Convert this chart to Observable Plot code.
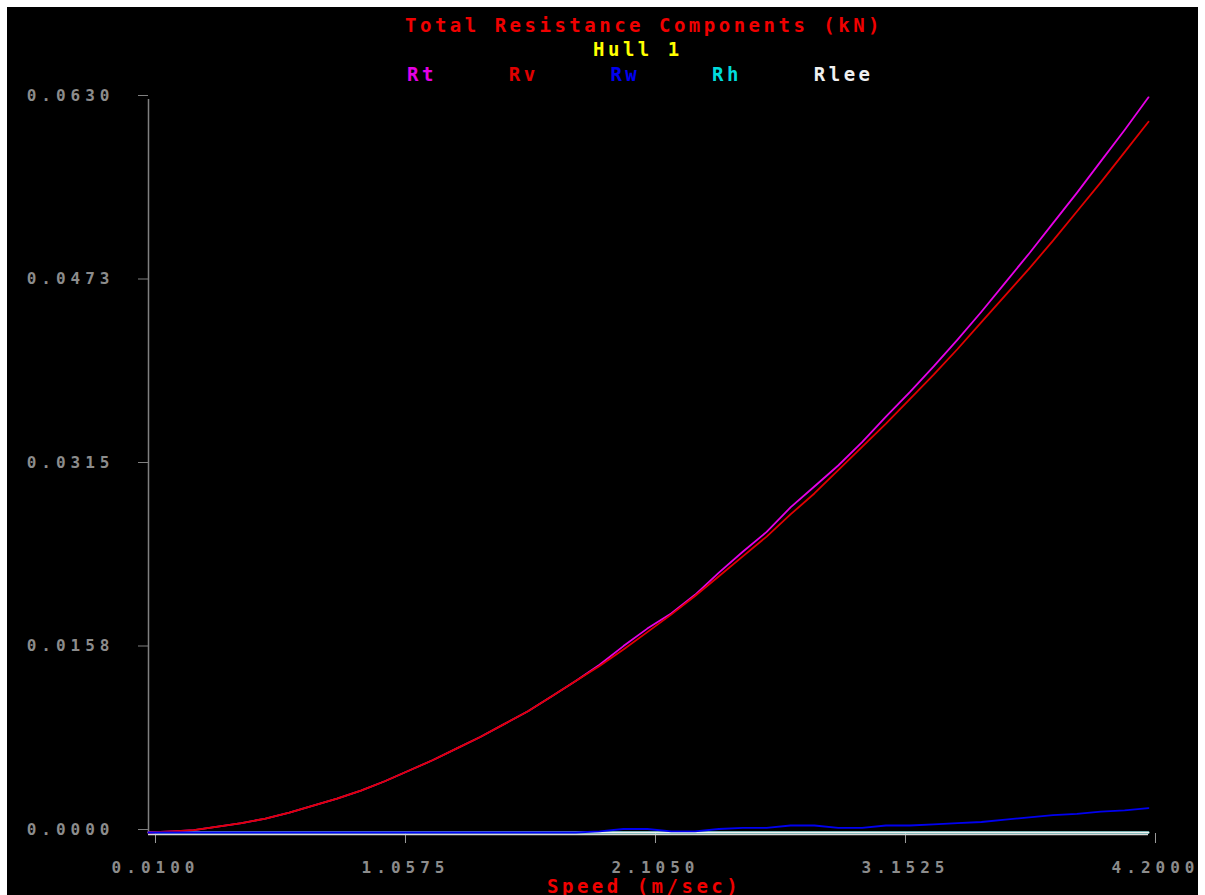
<!DOCTYPE html>
<html>
<head>
<meta charset="utf-8">
<script src="https://cdn.jsdelivr.net/npm/d3@7"></script>
<script src="https://cdn.jsdelivr.net/npm/@observablehq/plot@0.6"></script>
<style>
  html, body { margin: 0; padding: 0; background: #fff; }
  #panel { position: absolute; left: 7px; top: 7px; width: 1191px; height: 888px; background: #000; overflow: hidden; }
  #panel svg { position: absolute; left: 0; top: 0; }
  #panel svg text { font-size: 16px; font-weight: bold; letter-spacing: 5px; font-family: "DejaVu Sans Mono", monospace; }
  .t { position: absolute; font-family: "DejaVu Sans Mono", monospace; font-weight: bold; white-space: pre; line-height: 19px; font-size: 19px; letter-spacing: 3.5px; }
</style>
</head>
<body>
<div id="panel"></div>
<script>
// Speed (m/sec)
const speed = [0.01, 0.11, 0.2, 0.3, 0.4, 0.5, 0.6, 0.7, 0.8, 0.9, 1.0, 1.1, 1.2, 1.3, 1.4, 1.5, 1.6, 1.7, 1.8, 1.9,
  2.0, 2.1, 2.2, 2.3, 2.4, 2.5, 2.6, 2.7, 2.8, 2.9, 3.0, 3.1, 3.2, 3.3, 3.4, 3.5, 3.6, 3.7, 3.8, 3.9, 4.0, 4.1, 4.2];

// Resistance components (kN)
const rt = [0, 0.0001, 0.0002, 0.0005, 0.0008, 0.0012, 0.0017, 0.0023, 0.0029, 0.0036, 0.0044, 0.0053, 0.0062, 0.0072, 0.0082, 0.0093, 0.0104, 0.0117, 0.0130, 0.0144,
  0.0160, 0.0175, 0.0188, 0.0204, 0.0223, 0.0241, 0.0258, 0.0279, 0.0297, 0.0315, 0.0335, 0.0357, 0.0378, 0.0400, 0.0423, 0.0447, 0.0472, 0.0497, 0.0523, 0.0549, 0.0576, 0.0603, 0.0631];
const rv = [0, 0.0001, 0.0002, 0.0005, 0.0008, 0.0012, 0.0017, 0.0023, 0.0029, 0.0036, 0.0044, 0.0053, 0.0062, 0.0072, 0.0082, 0.0093, 0.0104, 0.0117, 0.0130, 0.0143,
  0.0157, 0.0172, 0.0187, 0.0203, 0.0220, 0.0237, 0.0254, 0.0273, 0.0291, 0.0311, 0.0331, 0.0351, 0.0372, 0.0393, 0.0415, 0.0438, 0.0461, 0.0484, 0.0508, 0.0533, 0.0558, 0.0584, 0.0610];
const rw = [0, 0, 0, 0, 0, 0, 0, 0, 0, 0, 0, 0, 0, 0, 0, 0, 0, 0, 0, 0.0001,
  0.0003, 0.0003, 0.0001, 0.0001, 0.0003, 0.0004, 0.0004, 0.0006, 0.0006, 0.0004, 0.0004, 0.0006, 0.0006, 0.0007, 0.0008, 0.0009, 0.0011, 0.0013, 0.0015, 0.0016, 0.0018, 0.0019, 0.0021];
const rh = [0, 0, 0, 0, 0, 0, 0, 0, 0, 0, 0, 0, 0, 0, 0, 0, 0, 0, 0, 0,
  0, 0, 0, 0, 0, 0, 0, 0, 0, 0, 0, 0, 0, 0, 0, 0, 0, 0, 0, 0, 0, 0, 0];
const rlee = [0, 0, 0, 0, 0, 0, 0, 0, 0, 0, 0, 0, 0, 0, 0, 0, 0, 0, 0, 0,
  0, 0, 0, 0, 0, 0, 0, 0, 0, 0, 0, 0, 0, 0, 0, 0, 0, 0, 0, 0, 0, 0, 0];

const seriesNames = ["Rt", "Rv", "Rw", "Rh", "Rlee"];
const seriesColors = ["#e600e6", "#e00000", "#0000f0", "#00dcdc", "#f0f0f0"];
const seriesValues = [rt, rv, rw, rh, rlee];

// Axis ticks and their printed labels
const xTicks = [0.01, 1.0575, 2.105, 3.1525, 4.2];
const xTickLabels = ["0.0100", "1.0575", "2.1050", "3.1525", "4.2000"];
const yTicks = [0, 0.01575, 0.0315, 0.04725, 0.063];
const yTickLabels = ["0.0000", "0.0158", "0.0315", "0.0473", "0.0630"];

const titleText = "Total Resistance Components (kN)";
const subtitleText = "Hull 1";
const xLabelText = "Speed (m/sec)";

const panel = document.getElementById("panel");

// Lines: zero-valued components first, then Rt / Rv, Rw on top
const drawOrder = [3, 4, 0, 1, 2];
const lineMarks = drawOrder.map(k => Plot.line(seriesValues[k], {
  x: (d, i) => speed[i],
  y: d => d,
  stroke: seriesColors[k],
  strokeWidth: 1.8,
  dy: -1
}));

const chart = Plot.plot({
  width: 1191,
  height: 888,
  marginLeft: 141,
  marginRight: 50,
  marginTop: 92,
  marginBottom: 62,
  style: {
    background: "transparent",
    overflow: "visible"
  },
  x: {domain: [0.01, 4.2]},
  y: {domain: [0, 0.063]},
  marks: [
    Plot.ruleX([0.01], {y1: 0, y2: 0.063, stroke: "#808080", strokeWidth: 1.5}),
    Plot.axisY(yTicks, {
      tickSize: 10, tickPadding: 24, stroke: "#808080", fill: "#8c8c8c",
      dy: -4, label: null,
      tickFormat: d => yTickLabels[yTicks.indexOf(d)]
    }),
    Plot.axisX(xTicks, {
      tickSize: 10, tickPadding: 18, stroke: "#9a9a9a", fill: "#8c8c8c",
      dx: 7, label: null,
      tickFormat: d => xTickLabels[xTicks.indexOf(d)]
    }),
    Plot.ruleY([0], {stroke: "#d8d8d8", strokeWidth: 1.5, dy: 1}),
    ...lineMarks
  ]
});
panel.appendChild(chart);

function addText(text, left, top, color) {
  const el = document.createElement("div");
  el.className = "t";
  el.textContent = text;
  el.style.left = left + "px";
  el.style.top = top + "px";
  el.style.color = color;
  panel.appendChild(el);
  return el;
}

addText(titleText, 398, 9, "#f00000");
addText(subtitleText, 586, 33, "#ffff00");
seriesNames.forEach((name, i) => addText(name, 400 + i * 101.7, 58, seriesColors[i]));
addText(xLabelText, 540, 870, "#f00000");
</script>
</body>
</html>
